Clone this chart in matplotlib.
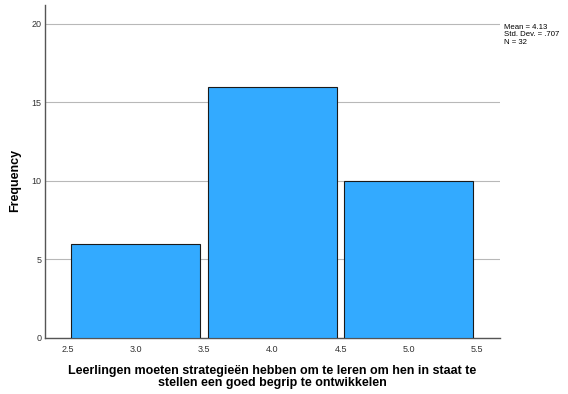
import matplotlib
matplotlib.use("Agg")
import matplotlib.pyplot as plt

plt.rcParams['font.family'] = ['Liberation Sans', 'DejaVu Sans']

bin_left = [2.5, 3.5, 4.5]
counts = [6, 16, 10]
bin_width = 1.0
xticks = [2.5, 3.0, 3.5, 4.0, 4.5, 5.0, 5.5]
xtick_labels = ["2.5", "3.0", "3.5", "4.0", "4.5", "5.0", "5.5"]
yticks = [0, 5, 10, 15, 20]
stats_text = "Mean = 4.13\nStd. Dev. = .707\nN = 32"
xlabel = "Leerlingen moeten strategieën hebben om te leren om hen in staat te\nstellen een goed begrip te ontwikkelen"

W, H = 568, 394
fig = plt.figure(figsize=(W / 100, H / 100), dpi=100)
ax = fig.add_axes([0.080, 0.143, 0.800, 0.844])

gap_l, gap_r = 0.026, 0.028
ax.bar([b + gap_l for b in bin_left], counts, width=bin_width - gap_l - gap_r, align="edge",
       color="#33AAFF", edgecolor="#1a1a1a", linewidth=0.8, zorder=3)

ax.set_xlim(2.337, 5.666)
ax.set_ylim(0, 21.2)
ax.set_xticks(xticks)
ax.set_xticklabels(xtick_labels)
ax.set_yticks(yticks)
ax.grid(axis="y", color="#b8b8b8", linewidth=0.8, zorder=0)
ax.tick_params(axis="both", labelsize=6.5, colors="#333333", length=0)
ax.tick_params(axis="x", pad=5)
ax.tick_params(axis="y", pad=3)
for s in ["top", "right"]:
    ax.spines[s].set_visible(False)
for s in ["left", "bottom"]:
    ax.spines[s].set_color("#555555")
    ax.spines[s].set_linewidth(1.0)

fig.text(15 / W, 1 - 180 / H, "Frequency", fontsize=9, fontweight="bold",
         rotation=90, ha="center", va="center")
fig.text(272 / W, 1 - 377 / H, xlabel, fontsize=9, fontweight="bold",
         ha="center", va="center", linespacing=1.0)

fig.text(504 / W, 1 - 24 / H, stats_text, fontsize=5.6, va="top", ha="left", linespacing=1.1)

fig.savefig("out.png", dpi=100)
